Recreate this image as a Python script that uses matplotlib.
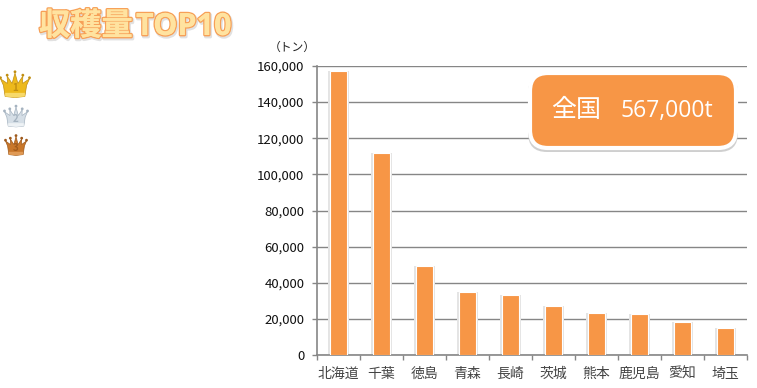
import matplotlib
matplotlib.use("Agg")
import matplotlib.pyplot as plt
import matplotlib.patheffects as pe
from matplotlib.patches import FancyBboxPatch, Polygon, Circle

plt.rcParams['font.family'] = ['Noto Sans CJK JP', 'DejaVu Sans']

prefs = ["北海道", "千葉", "徳島", "青森", "長崎", "茨城", "熊本", "鹿児島", "愛知", "埼玉"]
harvest = [157000, 112000, 49500, 35000, 33000, 27000, 23500, 22500, 18000, 15000]
yticks = [0, 20000, 40000, 60000, 80000, 100000, 120000, 140000, 160000]
orange = "#F79646"

W, H = 757, 388
fig = plt.figure(figsize=(W/100, H/100), dpi=100)
ax = fig.add_axes([317/W, 1-355/H, 430/W, 289/H])

x = list(range(len(prefs)))
# soft grey shadow behind the bars
ax.bar(x, harvest, width=0.47, color="#e4e4e4", zorder=2)
ax.bar(x, harvest, width=0.38, color=orange, edgecolor="white", linewidth=0.8, zorder=3)

ax.set_xlim(-0.5, 9.5)
ax.set_ylim(0, 160000)
ax.set_yticks(yticks)
ax.set_yticklabels([f"{v:,}" for v in yticks], fontsize=9.5, color="#111111")
ax.yaxis.grid(True, color="#868686", linewidth=1)
ax.set_axisbelow(True)
ax.set_xticks([i-0.5 for i in range(11)])
ax.set_xticklabels([])
ax.tick_params(axis="x", length=3.6, color="#868686", width=1)
ax.tick_params(axis="y", length=3.6, color="#868686", width=1, pad=5.5)
for i, name in enumerate(prefs):
    ax.text(i, -10500, name, ha="center", va="center", fontsize=10, color="#444444", clip_on=False)
for s in ["top", "right"]:
    ax.spines[s].set_visible(False)
for s in ["left", "bottom"]:
    ax.spines[s].set_color("#868686")
    ax.spines[s].set_linewidth(1.2)

# overlay in pixel coordinates for title, callout and crowns
ov = fig.add_axes([0, 0, 1, 1], zorder=5)
ov.set_xlim(0, W)
ov.set_ylim(H, 0)
ov.axis("off")
ov.patch.set_alpha(0)

ov.text(292, 47, "（トン）", ha="center", va="center", fontsize=8.5, color="#222222")

title_fx = [pe.SimpleLineShadow(offset=(0.8, -1.2), shadow_color="#aaaaaa", alpha=0.35, linewidth=2.5),
            pe.withStroke(linewidth=2, foreground="#F7A057"), pe.Normal()]
t1 = ov.text(39, 26, "収穫量", ha="left", va="center", fontsize=22.5, fontweight="bold", color="#FFE3A0")
t2 = ov.text(136, 27, "TOP10", ha="left", va="center", fontsize=22, fontweight="bold", color="#FFE3A0",
             family=["Open Sans", "DejaVu Sans"])
t1.set_path_effects(title_fx)
t2.set_path_effects(title_fx)

shadow = FancyBboxPatch((528, 74), 210, 78, boxstyle="round,pad=0,rounding_size=19",
                        fc="#c4c4c4", ec="none", alpha=0.8)
ov.add_patch(shadow)
box = FancyBboxPatch((530, 73), 206, 75, boxstyle="round,pad=0,rounding_size=18",
                     fc=orange, ec="white", lw=3)
ov.add_patch(box)
ov.text(576, 110, "全国", ha="center", va="center", fontsize=18, color="white")
ov.text(667, 111, "567,000t", ha="center", va="center", fontsize=16.5, color="white",
        family=["Open Sans", "DejaVu Sans"])


def crown(cx, cy, w, h, fill, dark, light, num):
    pts = [(-0.34, 0.48), (-0.40, 0.05), (-0.5, -0.2), (-0.26, -0.02), (-0.27, -0.3), (-0.1, -0.02), (0, -0.42),
           (0.1, -0.02), (0.27, -0.3), (0.26, -0.02), (0.5, -0.2), (0.40, 0.05), (0.34, 0.48), (0, 0.52)]
    ov.add_patch(Polygon([(cx+a*w, cy+b*h) for a, b in pts], closed=True, fc=fill, ec=dark, lw=0.5))
    ov.add_patch(Polygon([(cx-0.34*w, cy+0.34*h), (cx+0.34*w, cy+0.34*h), (cx+0.34*w, cy+0.48*h), (cx, cy+0.52*h), (cx-0.34*w, cy+0.48*h)],
                         closed=True, fc=light, ec="none"))
    for a, b in [(-0.5, -0.24), (-0.27, -0.34), (0, -0.47), (0.27, -0.34), (0.5, -0.24)]:
        ov.add_patch(Circle((cx+a*w, cy+b*h), 1.4, fc=dark, ec="none"))
    ov.text(cx, cy+0.14*h, num, ha="center", va="center", fontsize=7, fontweight="bold", color=dark)


crown(15, 84, 29, 26, "#EDB91B", "#C08E12", "#F7D96A", "1")
crown(16, 116, 23, 21, "#D5DEE6", "#A5B3C0", "#EEF2F5", "2")
crown(16, 145, 21, 20, "#C9772A", "#9F5A1C", "#E09A55", "3")

fig.savefig("out.png", dpi=100)
